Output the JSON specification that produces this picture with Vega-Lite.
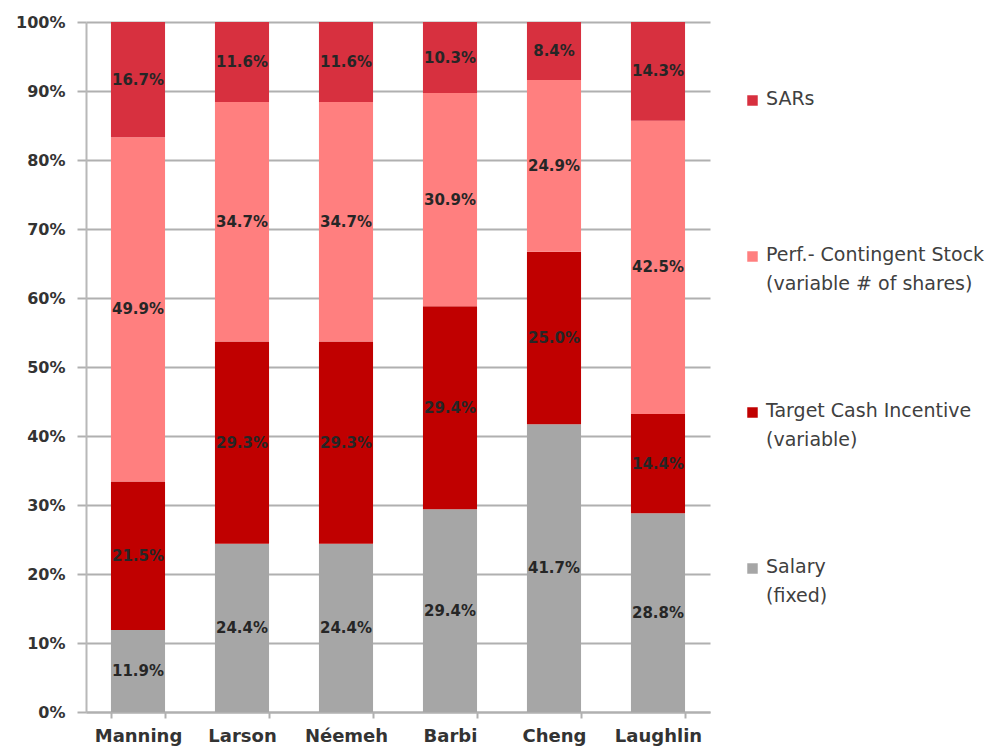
{
  "$schema": "https://vega.github.io/schema/vega-lite/v6.json",
  "width": 624,
  "height": 690,
  "autosize": {"type": "none"},
  "padding": {"left": 86, "top": 22, "right": 283, "bottom": 41},
  "background": "white",
  "config": {"font": "DejaVu Sans", "view": {"stroke": null}},
  "data": {
    "values": [
      {"name": "Manning", "comp": "Salary", "rank": 1, "value": 0.119},
      {"name": "Manning", "comp": "Target", "rank": 2, "value": 0.215},
      {"name": "Manning", "comp": "Perf", "rank": 3, "value": 0.499},
      {"name": "Manning", "comp": "SARs", "rank": 4, "value": 0.167},
      {"name": "Larson", "comp": "Salary", "rank": 1, "value": 0.244},
      {"name": "Larson", "comp": "Target", "rank": 2, "value": 0.293},
      {"name": "Larson", "comp": "Perf", "rank": 3, "value": 0.347},
      {"name": "Larson", "comp": "SARs", "rank": 4, "value": 0.116},
      {"name": "Néemeh", "comp": "Salary", "rank": 1, "value": 0.244},
      {"name": "Néemeh", "comp": "Target", "rank": 2, "value": 0.293},
      {"name": "Néemeh", "comp": "Perf", "rank": 3, "value": 0.347},
      {"name": "Néemeh", "comp": "SARs", "rank": 4, "value": 0.116},
      {"name": "Barbi", "comp": "Salary", "rank": 1, "value": 0.294},
      {"name": "Barbi", "comp": "Target", "rank": 2, "value": 0.294},
      {"name": "Barbi", "comp": "Perf", "rank": 3, "value": 0.309},
      {"name": "Barbi", "comp": "SARs", "rank": 4, "value": 0.103},
      {"name": "Cheng", "comp": "Salary", "rank": 1, "value": 0.417},
      {"name": "Cheng", "comp": "Target", "rank": 2, "value": 0.250},
      {"name": "Cheng", "comp": "Perf", "rank": 3, "value": 0.249},
      {"name": "Cheng", "comp": "SARs", "rank": 4, "value": 0.084},
      {"name": "Laughlin", "comp": "Salary", "rank": 1, "value": 0.288},
      {"name": "Laughlin", "comp": "Target", "rank": 2, "value": 0.144},
      {"name": "Laughlin", "comp": "Perf", "rank": 3, "value": 0.425},
      {"name": "Laughlin", "comp": "SARs", "rank": 4, "value": 0.143}
    ]
  },
  "transform": [
    {"stack": "value", "groupby": ["name"], "sort": [{"field": "rank", "order": "ascending"}], "as": ["v0", "v1"]},
    {"calculate": "(datum.v0 + datum.v1) / 2", "as": "mid"}
  ],
  "encoding": {
    "x": {
      "field": "name",
      "type": "nominal",
      "sort": ["Manning", "Larson", "Néemeh", "Barbi", "Cheng", "Laughlin"],
      "scale": {"paddingInner": 0.48, "paddingOuter": 0.24},
      "axis": {
        "title": null,
        "labelAngle": 0,
        "labelFont": "DejaVu Sans",
        "labelFontWeight": "bold",
        "labelFontSize": 18,
        "labelColor": "#333333",
        "labelPadding": 9,
        "tickBand": "extent",
        "tickSize": 6,
        "tickColor": "#B0B0B0",
        "tickWidth": 2,
        "domainColor": "#B0B0B0",
        "domainWidth": 2,
        "grid": false
      }
    }
  },
  "resolve": {"axis": {"y": "independent"}},
  "layer": [
    {
      "mark": {"type": "bar"},
      "encoding": {
        "y": {
          "field": "v0",
          "type": "quantitative",
          "scale": {"domain": [0, 1]},
          "axis": {
            "title": null,
            "format": ".0%",
            "values": [0, 0.1, 0.2, 0.3, 0.4, 0.5, 0.6, 0.7, 0.8, 0.9, 1],
            "labelFont": "DejaVu Sans",
            "labelFontWeight": "bold",
            "labelFontSize": 16,
            "labelColor": "#333333",
            "labelPadding": 12,
            "tickSize": 9,
            "tickColor": "#B0B0B0",
            "tickWidth": 2,
            "domainColor": "#B8B8B8",
            "domainWidth": 2,
            "grid": true,
            "gridColor": "#B0B0B0",
            "gridWidth": 2
          }
        },
        "y2": {"field": "v1"},
        "color": {
          "field": "comp",
          "type": "nominal",
          "scale": {
            "domain": ["SARs", "Perf", "Target", "Salary"],
            "range": ["#D7303F", "#FF7F7F", "#C00000", "#A6A6A6"]
          },
          "legend": {
            "title": null,
            "orient": "none",
            "legendX": 657,
            "legendY": 69,
            "symbolType": "square",
            "symbolSize": 110,
            "symbolStrokeWidth": 0,
            "labelFont": "DejaVu Sans",
            "labelFontSize": 19,
            "labelColor": "#404040",
            "labelLimit": 300,
            "labelOffset": 4,
            "rowPadding": 107,
            "labelExpr": "datum.label == 'SARs' ? ['SARs', ' '] : datum.label == 'Perf' ? ['Perf.- Contingent Stock', '(variable # of shares)'] : datum.label == 'Target' ? ['Target Cash Incentive', '(variable)'] : ['Salary', '(fixed)']",
            "labelBaseline": "top",
            "encode": {
              "labels": {"update": {"dy": {"value": -11}, "lineHeight": {"value": 29}}}
            }
          }
        }
      }
    },
    {
      "mark": {"type": "text", "font": "DejaVu Sans", "fontWeight": "bold", "fontSize": 15, "color": "#262626"},
      "encoding": {
        "y": {"field": "mid", "type": "quantitative", "axis": null},
        "text": {"field": "value", "type": "quantitative", "format": ".1%"}
      }
    }
  ]
}
